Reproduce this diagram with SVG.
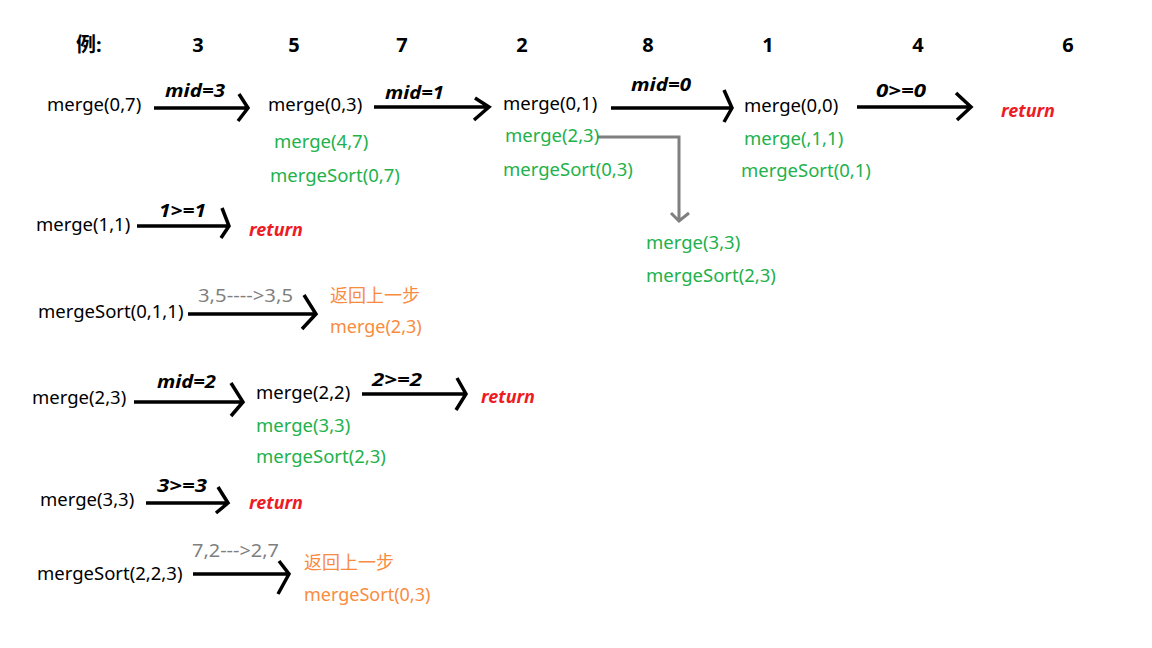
<svg xmlns="http://www.w3.org/2000/svg" width="1152" height="648" viewBox="0 0 1152 648">
<style>
text{font-family:"Noto Sans","Noto Sans CJK SC",sans-serif;font-size:18.5px}
.hd{font-size:20px;font-weight:bold;fill:#000}
.hc{text-anchor:middle}
.k{fill:#000}
.g{fill:#22b14c}
.o{fill:#f98b3e;font-size:18px}
.gy{fill:#7f7f7f;font-size:18px}
.lb{font-size:17px;font-weight:bold;font-style:italic;fill:#000}
.rt{font-size:18px;font-weight:bold;font-style:italic;fill:#ed1c24}
.ar{fill:none;stroke:#000;stroke-width:3.5;stroke-linecap:butt;stroke-linejoin:miter}
.gl{fill:none;stroke:#7f7f7f;stroke-width:3;stroke-linejoin:miter}
</style>
<rect width="1152" height="648" fill="#fff"/>
<g id="header">
<text class="hd" x="76" y="52">例:</text>
<text class="hd hc" x="198" y="52">3</text>
<text class="hd hc" x="294" y="52">5</text>
<text class="hd hc" x="402" y="52">7</text>
<text class="hd hc" x="522" y="52">2</text>
<text class="hd hc" x="648" y="52">8</text>
<text class="hd hc" x="768" y="52">1</text>
<text class="hd hc" x="918" y="52">4</text>
<text class="hd hc" x="1068" y="52">6</text>
</g>
<g id="connectors">
<path class="ar" d="M154 108H248M239 94L248 108L238 121"/>
<path class="ar" d="M374 107H489M475 98L489 107L474 120"/>
<path class="ar" d="M611 108H732M724 90L732 108L724 122"/>
<path class="ar" d="M857 107H971M956 93L971 107L957 120"/>
<path class="ar" d="M137 226H229M222 208L229 226L221 238"/>
<path class="ar" d="M188 314H316M304 295L316 314L302 329"/>
<path class="ar" d="M134 402H243M231 383L243 402L231 416"/>
<path class="ar" d="M362 394H466M457 378L466 394L456 410"/>
<path class="ar" d="M146 503H228M218 487L228 503L216 513"/>
<path class="ar" d="M193 574H289M279 561L289 574L278 594"/>
<path class="gl" d="M597 137H679V221M671 213L679 221L689 213"/>
<text class="lb" x="165" y="97" textLength="60" lengthAdjust="spacingAndGlyphs">mid=3</text>
<text class="lb" x="385" y="99" textLength="59" lengthAdjust="spacingAndGlyphs">mid=1</text>
<text class="lb" x="631" y="91" textLength="60" lengthAdjust="spacingAndGlyphs">mid=0</text>
<text class="lb" x="876" y="97" textLength="50" lengthAdjust="spacingAndGlyphs">0&gt;=0</text>
<text class="lb" x="159" y="217" textLength="47" lengthAdjust="spacingAndGlyphs">1&gt;=1</text>
<text class="gy" x="198" y="302" textLength="95" lengthAdjust="spacingAndGlyphs">3,5----&gt;3,5</text>
<text class="lb" x="157" y="388" textLength="59" lengthAdjust="spacingAndGlyphs">mid=2</text>
<text class="lb" x="372" y="386" textLength="50" lengthAdjust="spacingAndGlyphs">2&gt;=2</text>
<text class="lb" x="157" y="492" textLength="50" lengthAdjust="spacingAndGlyphs">3&gt;=3</text>
<text class="gy" x="192" y="557" textLength="87" lengthAdjust="spacingAndGlyphs">7,2---&gt;2,7</text>
</g>
<g id="n-merge07"><text class="k" x="47" y="111">merge(0,7)</text></g>
<g id="n-merge03">
<text class="k" x="268" y="111">merge(0,3)</text>
<text class="g" x="274" y="148">merge(4,7)</text>
<text class="g" x="270" y="182">mergeSort(0,7)</text>
</g>
<g id="n-merge01">
<text class="k" x="503" y="110">merge(0,1)</text>
<text class="g" x="505" y="142">merge(2,3)</text>
<text class="g" x="503" y="176">mergeSort(0,3)</text>
</g>
<g id="n-merge00">
<text class="k" x="744" y="112">merge(0,0)</text>
<text class="g" x="744" y="145">merge(,1,1)</text>
<text class="g" x="741" y="177">mergeSort(0,1)</text>
</g>
<g id="n-return1"><text class="rt" x="1001" y="117">return</text></g>
<g id="n-merge33a">
<text class="g" x="646" y="249">merge(3,3)</text>
<text class="g" x="646" y="282">mergeSort(2,3)</text>
</g>
<g id="n-merge11"><text class="k" x="36" y="231">merge(1,1)</text></g>
<g id="n-return2"><text class="rt" x="249" y="236">return</text></g>
<g id="n-mergesort011"><text class="k" x="38" y="318">mergeSort(0,1,1)</text></g>
<g id="n-back1">
<text class="o" x="330" y="302">返回上一步</text>
<text class="o" x="330" y="333">merge(2,3)</text>
</g>
<g id="n-merge23"><text class="k" x="32" y="404">merge(2,3)</text></g>
<g id="n-merge22">
<text class="k" x="256" y="399">merge(2,2)</text>
<text class="g" x="256" y="432">merge(3,3)</text>
<text class="g" x="256" y="463">mergeSort(2,3)</text>
</g>
<g id="n-return3"><text class="rt" x="481" y="403">return</text></g>
<g id="n-merge33b"><text class="k" x="40" y="506">merge(3,3)</text></g>
<g id="n-return4"><text class="rt" x="249" y="509">return</text></g>
<g id="n-mergesort223"><text class="k" x="37" y="580">mergeSort(2,2,3)</text></g>
<g id="n-back2">
<text class="o" x="304" y="569">返回上一步</text>
<text class="o" x="304" y="601">mergeSort(0,3)</text>
</g>
</svg>
